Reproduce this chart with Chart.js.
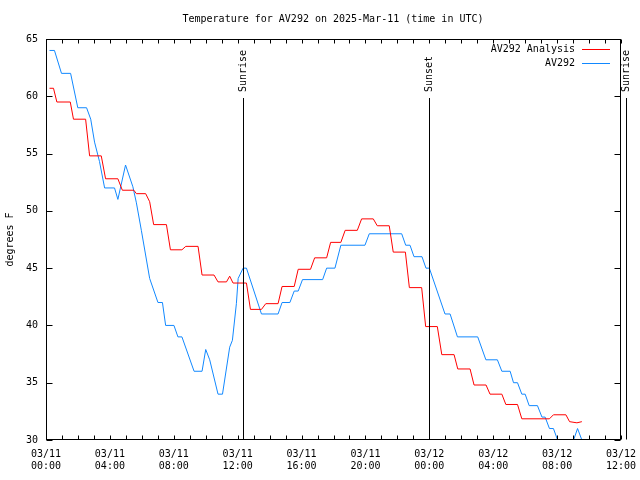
<!DOCTYPE html>
<html>
<head>
<meta charset="utf-8">
<script src="https://cdn.jsdelivr.net/npm/chart.js@4/dist/chart.umd.min.js"></script>
<style>
  html, body { margin: 0; padding: 0; background: #fff; }
  #wrap { width: 640px; height: 480px; }
</style>
</head>
<body>
<div id="wrap"><canvas id="tempChart" width="640" height="480"></canvas></div>
<script>
// hours since 03/11 00:00 UTC
const xTickLabels = ['03/11 00:00', '03/11 04:00', '03/11 08:00', '03/11 12:00', '03/11 16:00',
                     '03/11 20:00', '03/12 00:00', '03/12 04:00', '03/12 08:00', '03/12 12:00'];

const analysisHours = [0.22, 0.47, 0.68, 1.52, 1.72, 2.48, 2.73, 3.46, 3.73, 4.50, 4.78, 5.50, 5.66, 6.24,
  6.49, 6.74, 7.54, 7.79, 8.51, 8.75, 9.52, 9.77, 10.52, 10.77, 11.30, 11.50, 11.71, 12.55, 12.80,
  13.49, 13.76, 14.53, 14.78, 15.54, 15.79, 16.56, 16.82, 17.57, 17.82, 18.46, 18.73, 19.49, 19.76,
  20.49, 20.74, 21.49, 21.74, 22.50, 22.75, 23.52, 23.77, 24.50, 24.78, 25.55, 25.78, 26.55, 26.80,
  27.55, 27.80, 28.54, 28.79, 29.52, 29.79, 31.52, 31.77, 32.55, 32.78, 33.24, 33.55];
const analysisTemps = [60.7, 60.7, 59.5, 59.5, 58.0, 58.0, 54.8, 54.8, 52.8, 52.8, 51.8, 51.8, 51.5, 51.5,
  50.8, 48.8, 48.8, 46.6, 46.6, 46.9, 46.9, 44.4, 44.4, 43.8, 43.8, 44.3, 43.7, 43.7, 41.4,
  41.4, 41.9, 41.9, 43.4, 43.4, 44.9, 44.9, 45.9, 45.9, 47.25, 47.25, 48.3, 48.3, 49.3,
  49.3, 48.7, 48.7, 46.4, 46.4, 43.3, 43.3, 39.9, 39.9, 37.45, 37.45, 36.2, 36.2, 34.8,
  34.8, 34.0, 34.0, 33.1, 33.1, 31.85, 31.85, 32.2, 32.2, 31.6, 31.5, 31.6];

const obsHours = [0.22, 0.53, 0.97, 1.54, 1.99, 2.54, 2.80, 3.04, 3.35, 3.67, 4.29, 4.50, 4.98, 5.44, 5.66,
  5.97, 6.49, 7.01, 7.29, 7.49, 8.01, 8.26, 8.51, 9.27, 9.77, 10.00, 10.25, 10.77, 11.05, 11.50,
  11.67, 11.92, 12.03, 12.34, 12.55, 13.49, 14.53, 14.78, 15.27, 15.54, 15.79, 16.06, 17.32, 17.57,
  18.09, 18.46, 19.97, 20.24, 22.27, 22.52, 22.79, 23.04, 23.54, 23.79, 24.00, 24.98, 25.30, 25.76,
  27.03, 27.54, 28.26, 28.54, 29.06, 29.27, 29.52, 29.79, 30.00, 30.25, 30.77, 31.05, 31.25, 31.52,
  31.77, 32.03, 32.26, 32.82, 33.03, 33.28, 33.55, 33.64];
const obsTemps = [64, 64, 62, 62, 59, 59, 58, 56, 54.3, 52, 52, 51, 54, 52.1, 50.7,
  48.3, 44.1, 42, 42, 40, 40, 39, 39, 36, 36, 37.9, 37, 34, 34, 38.1,
  38.7, 41.9, 44.1, 45, 45, 41, 41, 42, 42, 43, 43, 44, 44, 45,
  45, 47, 47, 48, 48, 47, 47, 46, 46, 45, 45, 41, 41, 39,
  39, 37, 37, 36, 36, 35, 35, 34, 34, 33, 33, 32, 32, 31,
  31, 30, 29.5, 29.5, 30, 31, 30, 29.7];

const sunLabels = ['Sunrise', 'Sunset', 'Sunrise'];
const sunHours = [12.32, 23.98, 36.33];

const FONT = "'DejaVu Sans Mono', monospace";
Chart.defaults.font.family = FONT;
Chart.defaults.font.size = 10;
Chart.defaults.color = '#000';

const toPoints = (xs, ys) => xs.map((h, i) => ({ x: h, y: ys[i] }));

// gnuplot-like decorations: border, inward ticks, title, legend, sun lines
const gnuplotStyle = {
    id: 'gnuplotStyle',
    afterDraw(chart) {
        const ctx = chart.ctx;
        const a = chart.chartArea;
        const xs = chart.scales.x, ys = chart.scales.y;
        const L = Math.round(a.left) + 0.5, R = Math.round(a.right) - 0.5;
        const T = Math.round(a.top) + 0.5, B = Math.round(a.bottom) - 0.5;
        ctx.save();
        ctx.strokeStyle = '#000';
        ctx.lineWidth = 1;
        ctx.strokeRect(L, T, R - L, B - T);

        ctx.beginPath();
        for (let h = 0; h <= 36; h++) {
            const px = Math.round(xs.getPixelForValue(h)) + 0.5;
            const len = 4;
            ctx.moveTo(px, B); ctx.lineTo(px, B - len);
            ctx.moveTo(px, T); ctx.lineTo(px, T + len);
        }
        for (let v = 30; v <= 65; v += 5) {
            const py = Math.round(ys.getPixelForValue(v)) + 0.5;
            ctx.moveTo(L, py); ctx.lineTo(L + 6, py);
            ctx.moveTo(R, py); ctx.lineTo(R - 6, py);
        }
        ctx.stroke();

        // sunrise / sunset markers
        ctx.font = '10px ' + FONT;
        sunHours.forEach((h, i) => {
            const px = Math.round(xs.getPixelForValue(h)) + 0.5;
            ctx.beginPath();
            ctx.moveTo(px, 98); ctx.lineTo(px, B);
            ctx.stroke();
            ctx.save();
            ctx.translate(px, 92);
            ctx.rotate(-Math.PI / 2);
            ctx.textAlign = 'left';
            ctx.textBaseline = 'middle';
            ctx.fillStyle = '#000';
            ctx.fillText(sunLabels[i], 0, 0);
            ctx.restore();
        });

        // title
        ctx.fillStyle = '#000';
        ctx.textAlign = 'center';
        ctx.textBaseline = 'middle';
        ctx.fillText('Temperature for AV292 on 2025-Mar-11 (time in UTC)', 333, 19);

        // legend
        ctx.textAlign = 'right';
        chart.data.datasets.forEach((ds, i) => {
            const y = 49 + i * 14;
            ctx.fillStyle = '#000';
            ctx.fillText(ds.label, 575, y);
            ctx.strokeStyle = ds.borderColor;
            ctx.beginPath();
            ctx.moveTo(582, Math.round(y) + 0.5);
            ctx.lineTo(610, Math.round(y) + 0.5);
            ctx.stroke();
        });
        ctx.restore();
    }
};

new Chart(document.getElementById('tempChart'), {
    type: 'line',
    data: {
        datasets: [
            { label: 'AV292 Analysis', data: toPoints(analysisHours, analysisTemps),
              borderColor: '#ff0000', borderWidth: 1, pointRadius: 0, fill: false, tension: 0 },
            { label: 'AV292', data: toPoints(obsHours, obsTemps),
              borderColor: '#1188ff', borderWidth: 1, pointRadius: 0, fill: false, tension: 0 }
        ]
    },
    options: {
        responsive: false,
        animation: false,
        layout: { padding: { top: 39, right: 19, left: 0, bottom: 0 } },
        plugins: { legend: { display: false }, title: { display: false }, tooltip: { enabled: false } },
        scales: {
            x: {
                type: 'linear', min: 0, max: 36,
                grid: { display: false, drawTicks: false },
                border: { display: false },
                ticks: {
                    stepSize: 4, autoSkip: false, maxRotation: 0, padding: 8,
                    callback: v => (v % 4 === 0 ? xTickLabels[v / 4].split(' ') : '')
                },
                afterFit: s => { s.height = 40; s.paddingLeft = 0; s.paddingRight = 0; }
            },
            y: {
                min: 30, max: 65,
                grid: { display: false, drawTicks: false },
                border: { display: false },
                ticks: { stepSize: 5, padding: 8 },
                title: { display: true, text: 'degrees F', padding: { top: 4, bottom: 0 } },
                afterFit: s => { s.width = 46; s.paddingTop = 0; s.paddingBottom = 0; }
            }
        }
    },
    plugins: [gnuplotStyle]
});
</script>
</body>
</html>
